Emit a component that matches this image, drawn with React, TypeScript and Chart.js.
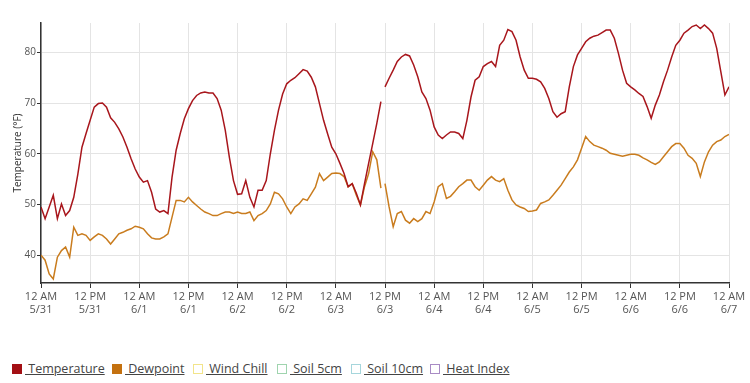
import React, { useEffect, useRef } from "react";
import { Chart, registerables } from "chart.js";

Chart.register(...registerables);

// hours since 12 AM 5/31 (one reading per hour); the station dropped out briefly after hour 83
const hours: number[] = [];
for (let h = 0; h <= 168; h++) hours.push(h);
const outageHour = 83.6;

const temperature: (number | null)[] = [
  49.5, 47.2, 49.5, 51.8, 47.2, 50.1, 47.8, 48.8, 51.4, 56.0, 61.3, 64.0,
  66.6, 69.2, 69.9, 70.0, 69.2, 67.1, 66.2, 64.9, 63.3, 61.3, 59.0, 57.0,
  55.4, 54.4, 54.7, 52.4, 49.1, 48.5, 48.8, 48.2, 55.4, 60.7, 64.0, 66.9,
  68.9, 70.5, 71.5, 72.0, 72.2, 72.0, 72.0, 70.9, 68.6, 64.6, 59.3, 54.7,
  52.0, 52.1, 54.7, 51.4, 49.5, 52.8, 52.8, 54.7, 60.0, 64.6, 68.6, 71.8,
  73.8, 74.5, 75.0, 75.8, 76.6, 76.3, 75.1, 73.2, 69.9, 66.6, 63.9, 61.3,
  60.0, 58.1, 56.1, 53.5, 54.1, 52.2, 49.9, 54.1, 58.1, 62.0, 66.0, 70.3,
  73.2, 74.9, 76.5, 78.2, 79.1, 79.6, 79.3, 77.5, 75.2, 72.2, 70.9, 68.6,
  65.3, 63.7, 63.0, 63.7, 64.3, 64.3, 64.0, 63.0, 66.6, 71.2, 74.5, 75.2,
  77.2, 77.8, 78.2, 77.2, 81.4, 82.4, 84.5, 84.1, 82.4, 79.1, 76.5, 74.9,
  74.9, 74.7, 74.2, 72.9, 70.9, 68.3, 67.2, 67.9, 68.3, 73.2, 77.2, 79.5,
  80.8, 82.1, 82.8, 83.2, 83.4, 83.9, 84.4, 84.4, 82.8, 79.8, 76.5, 73.9,
  73.2, 72.6, 71.9, 71.3, 69.3, 67.0, 69.6, 71.6, 74.2, 76.5, 79.1, 81.4,
  82.4, 83.8, 84.4, 85.1, 85.4, 84.7, 85.4, 84.7, 83.8, 80.8, 76.2, 71.6,
  73.2,
];

const dewpoint: (number | null)[] = [
  40.0, 39.0, 36.3, 35.3, 39.6, 40.9, 41.6, 39.6, 45.5, 43.9, 44.2, 43.9,
  42.9, 43.6, 44.2, 43.9, 43.2, 42.2, 43.2, 44.2, 44.5, 44.9, 45.2, 45.7,
  45.5, 45.2, 44.2, 43.4, 43.2, 43.2, 43.6, 44.2, 47.5, 50.8, 50.8, 50.5,
  51.4, 50.5, 49.8, 49.1, 48.5, 48.2, 47.8, 47.8, 48.2, 48.5, 48.5, 48.2,
  48.5, 48.2, 48.2, 48.5, 46.8, 47.8, 48.2, 48.8, 50.1, 52.4, 52.1, 51.1,
  49.5, 48.2, 49.5, 50.1, 51.1, 50.8, 52.1, 53.4, 56.1, 54.7, 55.4, 56.1,
  56.2, 56.1, 55.5, 53.5, 54.1, 51.8, 49.9, 53.5, 56.1, 60.4, 58.8, 53.2,
  54.1, 49.5, 45.6, 48.2, 48.6, 46.9, 46.3, 47.2, 46.6, 47.2, 48.6, 48.2,
  50.5, 53.5, 54.1, 51.2, 51.6, 52.5, 53.5, 54.1, 54.8, 54.8, 53.5, 52.8,
  53.8, 54.8, 55.5, 54.8, 54.5, 55.1, 52.8, 50.9, 49.9, 49.5, 49.2, 48.6,
  48.7, 48.9, 50.2, 50.5, 50.9, 51.8, 52.8, 53.8, 55.1, 56.4, 57.4, 58.8,
  61.1, 63.4, 62.4, 61.7, 61.4, 61.1, 60.7, 60.1, 59.9, 59.7, 59.5, 59.7,
  59.9, 59.9, 59.7, 59.2, 58.8, 58.3, 57.9, 58.4, 59.4, 60.4, 61.4, 62.0,
  62.0, 61.1, 59.7, 59.1, 58.1, 55.5, 58.4, 60.4, 61.7, 62.4, 62.7, 63.4,
  63.8,
];

const xTickHours = [0, 12, 24, 36, 48, 60, 72, 84, 96, 108, 120, 132, 144, 156, 168];
const xTickTimes = ["12 AM", "12 PM", "12 AM", "12 PM", "12 AM", "12 PM", "12 AM", "12 PM", "12 AM", "12 PM", "12 AM", "12 PM", "12 AM", "12 PM", "12 AM"];
const xTickDates = ["5/31", "5/31", "6/1", "6/1", "6/2", "6/2", "6/3", "6/3", "6/4", "6/4", "6/5", "6/5", "6/6", "6/6", "6/7"];
const yTicks = [40, 50, 60, 70, 80];

const legendLabels = ["Temperature", "Dewpoint", "Wind Chill", "Soil 5cm", "Soil 10cm", "Heat Index"];
const legendColors = ["#a30f14", "#c4710f", "#f2e48a", "#9fd4ae", "#a6d6dc", "#a88bc4"];
const legendFilled = [true, true, false, false, false, false];
const legendItemWidths = [100, 81, 84, 74, 79, 82];

const FONT = "'Open Sans', 'DejaVu Sans', sans-serif";

function toPoints(values: (number | null)[]) {
  const pts: { x: number; y: number | null }[] = [];
  hours.forEach((h, i) => {
    pts.push({ x: h, y: values[i] });
    if (h < outageHour && (hours[i + 1] ?? Infinity) > outageHour) pts.push({ x: outageHour, y: null });
  });
  return pts;
}

export default function App() {
  const canvasRef = useRef<HTMLCanvasElement | null>(null);

  useEffect(() => {
    const canvas = canvasRef.current;
    if (!canvas) return;
    const chart = new Chart(canvas, {
      type: "line",
      data: {
        datasets: [
          {
            label: "Temperature",
            data: toPoints(temperature) as any,
            borderColor: "#a8161c",
            borderWidth: 1.5,
            pointRadius: 0,
            tension: 0,
            spanGaps: false,
          },
          {
            label: "Dewpoint",
            data: toPoints(dewpoint) as any,
            borderColor: "#c97c1e",
            borderWidth: 1.5,
            pointRadius: 0,
            tension: 0,
            spanGaps: false,
          },
        ],
      },
      options: {
        animation: false,
        responsive: false,
        maintainAspectRatio: false,
        layout: { padding: { left: 0, right: 21, top: 23, bottom: 0 } },
        plugins: { legend: { display: false }, tooltip: { enabled: false } },
        scales: {
          x: {
            type: "linear",
            min: 0,
            max: 168,
            afterBuildTicks: (scale: any) => {
              scale.ticks = xTickHours.map((v) => ({ value: v }));
            },
            afterFit: (scale: any) => {
              scale.height = 57;
            },
            ticks: {
              autoSkip: false,
              maxRotation: 0,
              padding: 2,
              color: "#555",
              font: { family: FONT, size: 11 },
              callback: (_v: any, i: number) => [xTickTimes[i], xTickDates[i]],
            },
            grid: { color: "#e4e4e4", tickColor: "#333", tickLength: 5, lineWidth: 1 },
            border: { color: "#333", width: 1.5 },
          },
          y: {
            type: "linear",
            min: 34.5,
            max: 85.8,
            afterBuildTicks: (scale: any) => {
              scale.ticks = yTicks.map((v) => ({ value: v }));
            },
            afterFit: (scale: any) => {
              scale.width = 41;
            },
            ticks: {
              padding: 1,
              color: "#555",
              font: { family: FONT, size: 10 },
            },
            title: {
              display: true,
              text: "Temperature (°F)",
              color: "#333",
              font: { family: FONT, size: 10 },
              padding: { top: 12, bottom: 2 },
            },
            grid: { color: "#e4e4e4", tickColor: "#333", tickLength: 4, lineWidth: 1 },
            border: { color: "#333", width: 1.5 },
          },
        },
      },
    });
    return () => chart.destroy();
  }, []);

  return (
    <div style={{ position: "fixed", left: 0, top: 0, width: 750, height: 383, background: "#fff" }}>
      <canvas ref={canvasRef} width={750} height={340} style={{ display: "block", width: 750, height: 340 }} />
      <div
        style={{
          position: "absolute",
          left: 12,
          top: 360,
          display: "flex",
          alignItems: "center",
          fontFamily: FONT,
          fontSize: 12.5,
          color: "#444",
          whiteSpace: "nowrap",
        }}
      >
        {legendLabels.map((lab, i) => (
          <span key={lab} style={{ display: "inline-flex", alignItems: "center", width: legendItemWidths[i] }}>
            <span
              style={{
                display: "inline-block",
                width: 10,
                height: 10,
                boxSizing: "border-box",
                background: legendFilled[i] ? legendColors[i] : "transparent",
                border: `1px solid ${legendColors[i]}`,
                flex: "none",
              }}
            />
            <span style={{ textDecoration: "underline", paddingLeft: 3 }}>{"\u00a0" + lab}</span>
          </span>
        ))}
      </div>
    </div>
  );
}
